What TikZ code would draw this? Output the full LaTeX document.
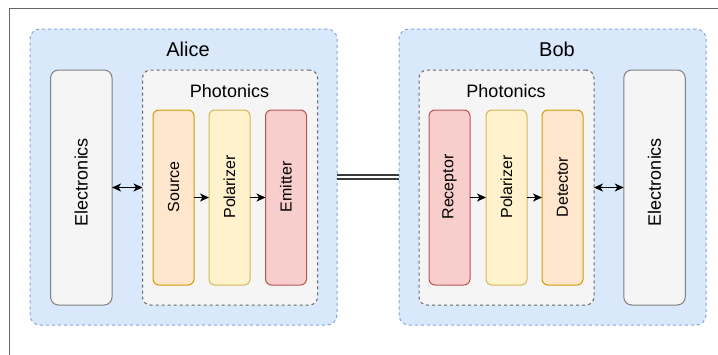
\documentclass[tikz,border=0pt]{standalone}
\usepackage{fontspec}
\setmainfont{Liberation Sans}
\usetikzlibrary{arrows.meta}
\definecolor{partyfill}{HTML}{DAE8FC}
\definecolor{partyline}{HTML}{7EA6E0}
\definecolor{greyfill}{HTML}{F5F5F5}
\definecolor{greyline}{HTML}{666666}
\definecolor{elecline}{HTML}{808080}
\definecolor{orfill}{HTML}{FFE6CC}
\definecolor{orline}{HTML}{D79B00}
\definecolor{yefill}{HTML}{FFF2CC}
\definecolor{yeline}{HTML}{D6B656}
\definecolor{refill}{HTML}{F8CECC}
\definecolor{reline}{HTML}{B85450}
\definecolor{linkcol}{HTML}{3A3A3A}
\tikzset{
  box/.style={inner sep=0pt, outer sep=0pt, line width=1pt},
  partybox/.style={box, fill=partyfill, draw=partyline, dash pattern=on 3pt off 3pt, rounded corners=10pt, minimum width=307pt, minimum height=296pt},
  photbox/.style={box, fill=greyfill, draw=greyline, dash pattern=on 3pt off 3pt, rounded corners=8pt, minimum width=175pt, minimum height=235pt},
  elecbox/.style={box, fill=greyfill, draw=elecline, rounded corners=8pt, minimum width=61.5pt, minimum height=235pt},
  stage/.style={box, rounded corners=6pt, minimum width=41pt, minimum height=175pt},
  orstage/.style={stage, fill=orfill, draw=orline},
  yestage/.style={stage, fill=yefill, draw=yeline},
  restage/.style={stage, fill=refill, draw=reline},
  vtext/.style={rotate=90, inner sep=0pt, font=\fontsize{16}{18}\selectfont},
  etext/.style={rotate=90, inner sep=0pt, font=\fontsize{18}{20}\selectfont},
  title/.style={inner sep=0pt, font=\fontsize{20}{22}\selectfont},
  subtitle/.style={inner sep=0pt, font=\fontsize{18}{20}\selectfont},
  flow/.style={line width=1.1pt, black, -{Stealth[length=9pt,width=8pt,inset=2.5pt]}},
  biflow/.style={line width=1.1pt, black, {Stealth[length=9pt,width=8pt,inset=2.5pt]}-{Stealth[length=9pt,width=8pt,inset=2.5pt]}},
}
\begin{document}
\begin{tikzpicture}[x=1pt,y=-1pt]
\useasboundingbox (0,0) rectangle (718,354);
\fill[white] (0,0) rectangle (718,354);
% outer frame (partly outside the picture)
\draw[line width=1pt, greyline] (9.7,360) -- (9.7,8.3) -- (730,8.3);

% Alice
\node[partybox] (alice) at (183.5,177) {};
\node[title] (alicet) at (188,49.5) {Alice};
\node[elecbox] (elecA) at (81.3,187.5) {};
\node[etext] (elecAt) at (81.3,182) {Electronics};
\node[photbox] (photA) at (230,187.5) {};
\node[subtitle] (photAt) at (229.5,91) {Photonics};
\node[orstage] (srcA) at (173.5,197.5) {};
\node[vtext] (srcAt) at (173.5,187) {Source};
\node[yestage] (polA) at (229.5,197.5) {};
\node[vtext] (polAt) at (229.5,187) {Polarizer};
\node[restage] (emA) at (286,197.5) {};
\node[vtext] (emAt) at (286,187) {Emitter};

% Bob
\node[partybox] (bob) at (552.5,177) {};
\node[title] (bobt) at (557,49.5) {Bob};
\node[photbox] (photB) at (506.5,187.5) {};
\node[subtitle] (photBt) at (506,91) {Photonics};
\node[restage] (recB) at (449.5,197.5) {};
\node[vtext] (recBt) at (449.5,187) {Receptor};
\node[yestage] (polB) at (506.5,197.5) {};
\node[vtext] (polBt) at (506.5,187) {Polarizer};
\node[orstage] (detB) at (562.5,197.5) {};
\node[vtext] (detBt) at (562.5,187) {Detector};
\node[elecbox] (elecB) at (654.5,187.5) {};
\node[etext] (elecBt) at (654.5,182) {Electronics};

% connectors
\draw[biflow] (elecA.east) -- (photA.west);
\draw[flow] (srcA.east) -- (polA.west);
\draw[flow] (polA.east) -- (emA.west);
\draw[flow] (recB.east) -- (polB.west);
\draw[flow] (polB.east) -- (detB.west);
\draw[biflow] (photB.east) -- (elecB.west);
\draw[line width=1.2pt, draw=linkcol, double=white, double distance=2.8pt] (alice.east) -- (bob.west);
\end{tikzpicture}
\end{document}
